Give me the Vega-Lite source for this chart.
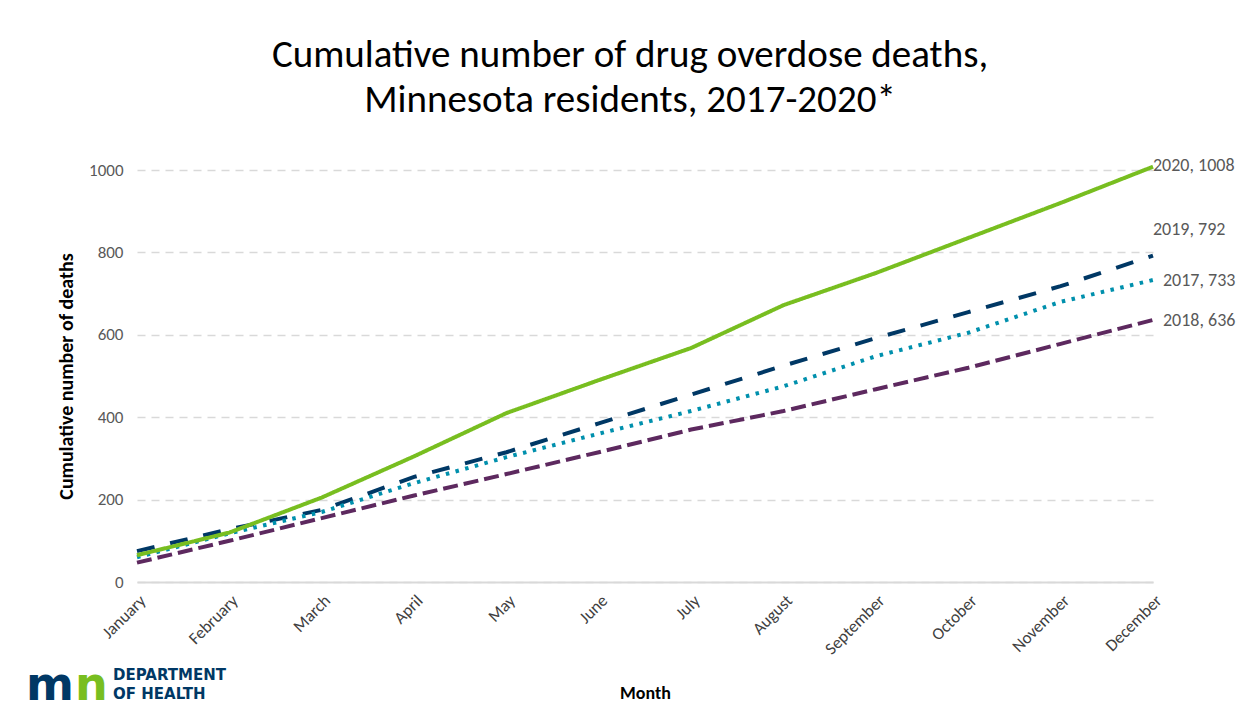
{
  "$schema": "https://vega.github.io/schema/vega-lite/v6.json",
  "autosize": {"type": "none"},
  "width": 1016,
  "height": 412,
  "padding": {"left": 137, "top": 170, "right": 85, "bottom": 129},
  "background": "white",
  "config": {
    "font": "Carlito, Lato, sans-serif",
    "view": {"stroke": null},
    "axis": {"labelFont": "Carlito, Lato, sans-serif", "titleFont": "Carlito, Lato, sans-serif"}
  },
  "title": {
    "text": ["Cumulative number of drug overdose deaths,", "Minnesota residents, 2017-2020*"],
    "fontSize": 39,
    "fontWeight": "normal",
    "color": "#000000",
    "lineHeight": 45,
    "anchor": "middle",
    "dx": -15,
    "offset": 37,
    "font": "Carlito, Lato, sans-serif"
  },
  "datasets": {
    "deaths": [
      {"month": "January", "year": "2018", "deaths": 47},
      {"month": "February", "year": "2018", "deaths": 100},
      {"month": "March", "year": "2018", "deaths": 155},
      {"month": "April", "year": "2018", "deaths": 210},
      {"month": "May", "year": "2018", "deaths": 262},
      {"month": "June", "year": "2018", "deaths": 315},
      {"month": "July", "year": "2018", "deaths": 370},
      {"month": "August", "year": "2018", "deaths": 415},
      {"month": "September", "year": "2018", "deaths": 468},
      {"month": "October", "year": "2018", "deaths": 520},
      {"month": "November", "year": "2018", "deaths": 578},
      {"month": "December", "year": "2018", "deaths": 636},
      {"month": "January", "year": "2019", "deaths": 75},
      {"month": "February", "year": "2019", "deaths": 128},
      {"month": "March", "year": "2019", "deaths": 175},
      {"month": "April", "year": "2019", "deaths": 255},
      {"month": "May", "year": "2019", "deaths": 315},
      {"month": "June", "year": "2019", "deaths": 385},
      {"month": "July", "year": "2019", "deaths": 455},
      {"month": "August", "year": "2019", "deaths": 525},
      {"month": "September", "year": "2019", "deaths": 592},
      {"month": "October", "year": "2019", "deaths": 655},
      {"month": "November", "year": "2019", "deaths": 718},
      {"month": "December", "year": "2019", "deaths": 792},
      {"month": "January", "year": "2017", "deaths": 60},
      {"month": "February", "year": "2017", "deaths": 118},
      {"month": "March", "year": "2017", "deaths": 170},
      {"month": "April", "year": "2017", "deaths": 240},
      {"month": "May", "year": "2017", "deaths": 303},
      {"month": "June", "year": "2017", "deaths": 360},
      {"month": "July", "year": "2017", "deaths": 415},
      {"month": "August", "year": "2017", "deaths": 475},
      {"month": "September", "year": "2017", "deaths": 548},
      {"month": "October", "year": "2017", "deaths": 605},
      {"month": "November", "year": "2017", "deaths": 680},
      {"month": "December", "year": "2017", "deaths": 733},
      {"month": "January", "year": "2020", "deaths": 65},
      {"month": "February", "year": "2020", "deaths": 120},
      {"month": "March", "year": "2020", "deaths": 205},
      {"month": "April", "year": "2020", "deaths": 305},
      {"month": "May", "year": "2020", "deaths": 410},
      {"month": "June", "year": "2020", "deaths": 490},
      {"month": "July", "year": "2020", "deaths": 568},
      {"month": "August", "year": "2020", "deaths": 672},
      {"month": "September", "year": "2020", "deaths": 750},
      {"month": "October", "year": "2020", "deaths": 835},
      {"month": "November", "year": "2020", "deaths": 920},
      {"month": "December", "year": "2020", "deaths": 1008}
    ],
    "logo": [{"t1": "DEPARTMENT", "t2": "OF HEALTH", "m": "m", "n": "n"}]
  },
  "data": {"name": "deaths"},
  "layer": [
    {
      "mark": {"type": "line", "strokeWidth": 4, "strokeCap": "butt"},
      "encoding": {
        "x": {
          "field": "month",
          "type": "ordinal",
          "scale": {"type": "point", "padding": 0, "domain": ["January","February","March","April","May","June","July","August","September","October","November","December"]},
          "axis": {
            "title": "Month",
            "titleFontSize": 18,
            "titleFontWeight": "bold",
            "titleColor": "#000000",
            "titlePadding": 27,
            "labelAngle": -45,
            "labelAlign": "right",
            "labelBaseline": "top",
            "labelFontSize": 17,
            "labelColor": "#404040",
            "labelPadding": 10,
            "labelOverlap": false,
            "ticks": false,
            "grid": false,
            "domainColor": "#d9d9d9",
            "domainWidth": 2
          }
        },
        "y": {
          "field": "deaths",
          "type": "quantitative",
          "scale": {"domain": [0, 1000], "nice": false},
          "axis": {
            "title": "Cumulative number  of deaths",
            "titleFontSize": 20,
            "titleFontWeight": "bold",
            "titleColor": "#000000",
            "titlePadding": 12,
            "values": [0, 200, 400, 600, 800, 1000],
            "format": "d",
            "labelFontSize": 17,
            "labelColor": "#595959",
            "labelPadding": 14,
            "ticks": false,
            "domain": false,
            "grid": true,
            "gridColor": "#d9d9d9",
            "gridDash": [8, 6],
            "gridWidth": 1.5
          }
        },
        "color": {
          "field": "year",
          "type": "nominal",
          "scale": {"domain": ["2017", "2018", "2019", "2020"], "range": ["#0090AD", "#5D295F", "#003865", "#78BE20"]},
          "legend": null
        },
        "strokeDash": {
          "field": "year",
          "type": "nominal",
          "scale": {"domain": ["2017", "2018", "2019", "2020"], "range": [[3.5, 6.5], [15, 6], [18, 16], [1, 0]]},
          "legend": null
        }
      }
    },
    {
      "transform": [{"filter": "datum.month === 'December' && datum.year === '2020'"}, {"calculate": "datum.year + ', ' + datum.deaths", "as": "label"}],
      "mark": {"type": "text", "align": "left", "baseline": "middle", "fontSize": 18, "color": "#595959", "dx": 0, "dy": -1},
      "encoding": {"x": {"field": "month", "type": "ordinal"}, "y": {"field": "deaths", "type": "quantitative"}, "text": {"field": "label"}}
    },
    {
      "transform": [{"filter": "datum.month === 'December' && datum.year === '2019'"}, {"calculate": "datum.year + ', ' + datum.deaths", "as": "label"}],
      "mark": {"type": "text", "align": "left", "baseline": "middle", "fontSize": 18, "color": "#595959", "dx": 0, "dy": -26},
      "encoding": {"x": {"field": "month", "type": "ordinal"}, "y": {"field": "deaths", "type": "quantitative"}, "text": {"field": "label"}}
    },
    {
      "transform": [{"filter": "datum.month === 'December' && (datum.year === '2017' || datum.year === '2018')"}, {"calculate": "datum.year + ', ' + datum.deaths", "as": "label"}],
      "mark": {"type": "text", "align": "left", "baseline": "middle", "fontSize": 18, "color": "#595959", "dx": 10, "dy": 1},
      "encoding": {"x": {"field": "month", "type": "ordinal"}, "y": {"field": "deaths", "type": "quantitative"}, "text": {"field": "label"}}
    },
    {
      "data": {"name": "logo"},
      "mark": {"type": "text", "align": "left", "baseline": "middle", "fontSize": 15, "fontWeight": "bold", "color": "#003865", "dx": -24, "font": "DejaVu Sans", "clip": false},
      "encoding": {"x": {"datum": "January", "type": "ordinal"}, "y": {"datum": -226, "type": "quantitative"}, "text": {"field": "t1", "type": "nominal"}}
    },
    {
      "data": {"name": "logo"},
      "mark": {"type": "text", "align": "left", "baseline": "middle", "fontSize": 15, "fontWeight": "bold", "color": "#003865", "dx": -24, "font": "DejaVu Sans", "clip": false},
      "encoding": {"x": {"datum": "January", "type": "ordinal"}, "y": {"datum": -272, "type": "quantitative"}, "text": {"field": "t2", "type": "nominal"}}
    },
    {
      "data": {"name": "logo"},
      "mark": {"type": "text", "align": "left", "baseline": "alphabetic", "fontSize": 46, "fontWeight": "bold", "color": "#003865", "dx": -111, "font": "DejaVu Sans", "clip": false},
      "encoding": {"x": {"datum": "January", "type": "ordinal"}, "y": {"datum": -286, "type": "quantitative"}, "text": {"field": "m", "type": "nominal"}}
    },
    {
      "data": {"name": "logo"},
      "mark": {"type": "text", "align": "left", "baseline": "alphabetic", "fontSize": 46, "fontWeight": "bold", "color": "#78BE20", "dx": -62, "font": "DejaVu Sans", "clip": false},
      "encoding": {"x": {"datum": "January", "type": "ordinal"}, "y": {"datum": -286, "type": "quantitative"}, "text": {"field": "n", "type": "nominal"}}
    }
  ]
}
